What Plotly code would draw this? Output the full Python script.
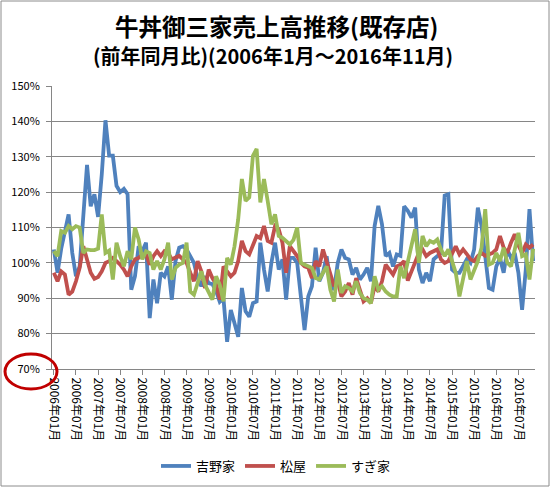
import plotly.graph_objects as go

# 前年同月比 (%), 2006年1月～2016年11月
months = [f"{y}年{m:02d}月" for y in range(2006, 2017) for m in range(1, 13)][:131]

yoshinoya = [
    103.8, 97.2, 104, 109, 113.7, 102.8, 96.2, 99, 112, 127.7,
    116, 119.4, 113, 125, 140.3, 130.3, 130.3, 121.8, 120, 120.9,
    119.4, 92.4, 96.2, 104.7, 103.3, 105.7, 84.4, 95.3, 88.6, 97.2,
    96.2, 99, 89.6, 100.5, 104.3, 104.7, 103.8, 102, 100, 95.7,
    93.4, 96.2, 94.3, 94, 92, 89, 90, 77.7, 86.7, 82.9,
    79.1, 92.9, 86.3, 84.8, 88.6, 89.1, 105.7, 98.1, 91.9, 100,
    105.7, 98.1, 101, 89.6, 101.4, 101.4, 100, 90.5, 81, 90.5,
    93.4, 104.3, 94.8, 97.2, 101.9, 94.3, 92.4, 100, 103.8, 101.4,
    101, 96.7, 98.6, 95.3, 96.7, 98.6, 94.8, 110.4, 116.1, 110.9,
    101.9, 102.8, 99, 102.4, 102, 116, 114.7, 112.8, 115.6, 98.1,
    94.3, 97.2, 94.8, 101, 101.9, 102.8, 119, 119.4, 98.1, 97.2,
    97.2, 99, 101, 100, 103.8, 115.6, 110.4, 101.9, 92.9, 92.4,
    99, 101.4, 97.2, 103.8, 101.4, 102.8, 97.2, 86.7, 98.1, 115.2,
    100.5,
]

matsuya = [
    97.2, 94.8, 97.6, 96.7, 91, 91.9, 94.8, 98.6, 104.7, 100.5,
    97.2, 95.5, 96, 97.6, 100, 100.5, 101.4, 100.5, 99.5, 98.1,
    96.2, 99, 101, 101.4, 102.4, 102.4, 99.5, 101.9, 103.3, 101.9,
    103.3, 102.8, 101, 101.5, 102, 101, 100, 97.2, 94.8, 100.5,
    97.6, 92.9, 98.1, 95.7, 94, 89.6, 99, 97.6, 96.2, 97.2,
    100.5, 106.2, 103.3, 102.4, 104.7, 107.6, 107, 110.4, 106.2, 105.7,
    110.4, 109.5, 105.7, 97.2, 104.7, 103.3, 101.9, 100, 99, 98.6,
    95.7, 100.5, 99, 103.8, 100.5, 97.2, 93.4, 94.8, 90.5, 91.9,
    94.3, 91, 95.7, 92.4, 89.1, 90, 88.6, 93.4, 91.9, 94.8,
    99.5, 98.1, 96.7, 99, 99.5, 100.5, 95, 97.6, 100, 102.8,
    103.8, 101.9, 102.8, 103.3, 103.8, 101, 100, 100.5, 102.8, 104.7,
    102.4, 103.8, 102.5, 101, 100.5, 101.9, 102.8, 102, 102.4, 102.8,
    103.8, 107.6, 104.3, 102.8, 105.7, 108.1, 105, 102.8, 105.2, 104.3,
    105.2,
]

sukiya = [
    103.3, 101.9, 109, 108.5, 110.4, 109.5, 110.4, 110, 102.8, 103.8,
    103.6, 103.6, 104, 113.7, 102.8, 103.5, 95.3, 105.7, 101.9, 99,
    103.3, 101, 110, 106.6, 101, 103.3, 102.8, 98.1, 100.5, 98.1,
    101, 105.7, 95.3, 98.6, 99.5, 100, 105.7, 91.9, 91, 94.8,
    97.6, 93.8, 91.5, 89.6, 96.2, 93.8, 89.1, 101.4, 99.5, 104.7,
    112.3, 123.7, 117.5, 118.5, 130.3, 132.2, 117.1, 123.7, 117.5, 110.9,
    113.7, 107.6, 107.1, 106.2, 105.2, 106.5, 110, 100, 99.5, 99,
    98.6, 95.7, 95.3, 97.2, 99, 92.4, 89.1, 98.1, 91.5, 93.4,
    92.9, 92, 94.8, 91.5, 90, 89.6, 88.6, 96.2, 92.4, 93.4,
    91.9, 91, 90.5, 90.5, 99, 95.7, 100.5, 104.7, 109.5, 100,
    107.6, 104.7, 106.2, 105.7, 106.6, 103.8, 101.9, 103.8, 100.5, 97.2,
    90.5, 95.3, 100.5, 95.3, 98.1, 100.5, 104.3, 115.2, 99.5, 100,
    102.8, 100.5, 104.3, 100, 99, 103.8, 108.5, 101.9, 102.4, 95.3,
    104,
]

series = [
    ("吉野家", yoshinoya, "#4F81BD"),
    ("松屋", matsuya, "#C0504D"),
    ("すぎ家", sukiya, "#9BBB59"),
]

font = "Noto Sans CJK JP"
grid = "#868686"

fig = go.Figure()
for name, vals, col in series:
    fig.add_trace(go.Scatter(x=months, y=vals, name=name, mode="lines",
                             line=dict(color=col, width=3.8)))

# plot area in pixels: x 52..535, y 86..369
L, R, T, B = 52, 535, 86, 369
W, H = R - L, B - T


def px(x):
    return (x - L) / W


def py(y):
    return (B - y) / H


fig.update_layout(
    width=551, height=488,
    margin=dict(l=L, r=551 - R, t=T, b=488 - B, autoexpand=False),
    paper_bgcolor="white", plot_bgcolor="white",
    font=dict(family=font, size=11, color="#000"),
    showlegend=True,
    legend=dict(orientation="h", x=px(276), xanchor="center", y=py(466), yanchor="middle",
                font=dict(size=13), itemwidth=30, tracegroupgap=0),
    annotations=[
        dict(text="<b>牛丼御三家売上高推移(既存店)</b>", x=px(276), y=py(26),
             xref="paper", yref="paper", showarrow=False, yanchor="middle",
             font=dict(size=23.5, family=font)),
        dict(text="<b>(前年同月比)(2006年1月～2016年11月)</b>", x=px(273), y=py(56),
             xref="paper", yref="paper", showarrow=False, yanchor="middle",
             font=dict(size=20, family=font)),
    ],
    shapes=[
        dict(type="rect", xref="paper", yref="paper",
             x0=px(1), x1=px(549), y0=py(486), y1=py(1),
             line=dict(color="#8c8c8c", width=1)),
        dict(type="circle", xref="paper", yref="paper",
             x0=px(5), x1=px(57), y0=py(389), y1=py(354),
             line=dict(color="#C00000", width=3)),
    ],
)

fig.update_xaxes(
    type="category", tickmode="array", tickvals=months[::6], ticktext=months[::6],
    tickangle=90, tickfont=dict(size=12), showgrid=False,
    showline=True, linecolor=grid, linewidth=1,
    ticks="outside", ticklen=5, tickcolor=grid, range=[-0.5, 130.5],
)
fig.update_yaxes(
    range=[70, 150], dtick=10, ticksuffix="%", showgrid=True, gridcolor=grid, gridwidth=1,
    showline=True, linecolor=grid, linewidth=1, zeroline=False,
    ticks="outside", ticklen=5, tickcolor=grid, tickfont=dict(size=11),
    ticklabelstandoff=4,
)

fig.write_html("out.html", config={"displayModeBar": False},
               post_script="document.body.style.margin='0';")
